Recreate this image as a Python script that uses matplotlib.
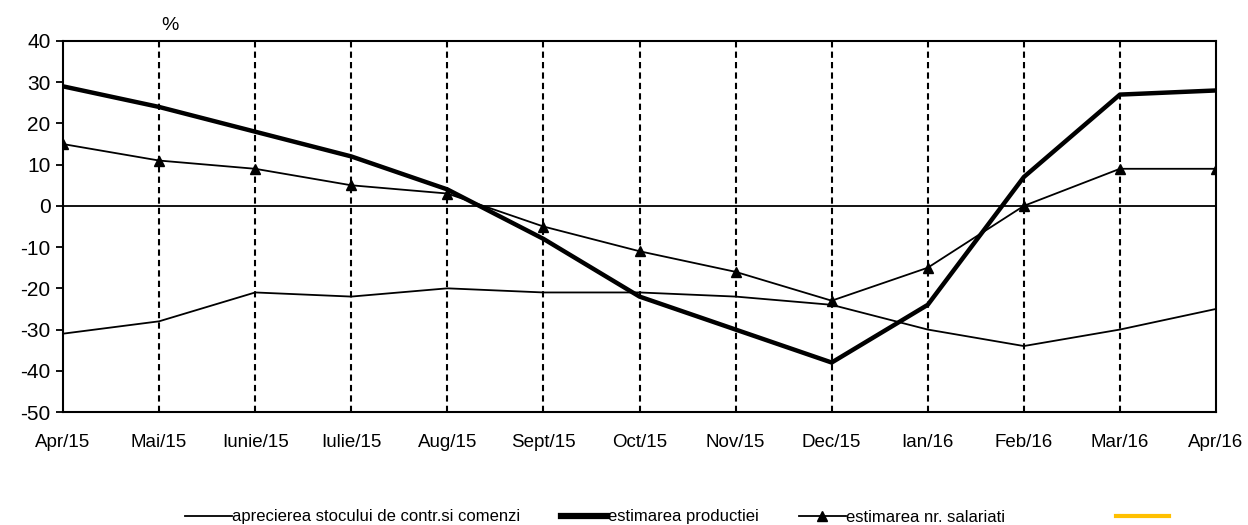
import matplotlib.pyplot as plt
from matplotlib.lines import Line2D

plt.rcParams['font.family'] = ['Liberation Sans', 'DejaVu Sans']
plt.rcParams['axes.unicode_minus'] = False

months = ["Apr/15", "Mai/15", "Iunie/15", "Iulie/15", "Aug/15", "Sept/15", "Oct/15",
          "Nov/15", "Dec/15", "Ian/16", "Feb/16", "Mar/16", "Apr/16"]
stoc_comenzi = [-31, -28, -21, -22, -20, -21, -21, -22, -24, -30, -34, -30, -25]
productie = [29, 24, 18, 12, 4, -8, -22, -30, -38, -24, 7, 27, 28]
salariati = [15, 11, 9, 5, 3, -5, -11, -16, -23, -15, 0, 9, 9]
yticks = [40, 30, 20, 10, 0, -10, -20, -30, -40, -50]

fig = plt.figure(figsize=(12.48, 5.25), dpi=100)
ax = fig.add_axes([63 / 1248, 1 - 412 / 525, (1216 - 63) / 1248, (412 - 41) / 525])

x = list(range(len(months)))

for xi in x[1:-1]:
    ax.axvline(xi, color='black', linestyle=(0, (3, 2)), linewidth=1.5, zorder=1)
ax.axhline(0, color='black', linewidth=1.3, zorder=1)

ax.plot(x, stoc_comenzi, color='black', linewidth=1.3, zorder=3)
ax.plot(x, productie, color='black', linewidth=3.2, zorder=3)
ax.plot(x, salariati, color='black', linewidth=1.3, marker='^', markersize=7, zorder=3)

ax.set_xlim(0, len(months) - 1)
ax.set_ylim(-50, 40)
ax.set_yticks(yticks)
ax.set_xticks(x)
ax.set_xticklabels(months, fontsize=13.5)
ax.tick_params(axis='x', length=0, pad=16)
ax.tick_params(axis='y', labelsize=15, length=5, width=1.3, direction='out', pad=4)
for spine in ax.spines.values():
    spine.set_linewidth(1.5)

fig.text(170 / 1248, 1 - 25 / 525, "%", fontsize=14, ha='center', va='center')

handles = [
    Line2D([], [], color='black', linewidth=1.3),
    Line2D([], [], color='black', linewidth=4.5),
    Line2D([], [], color='black', linewidth=1.3, marker='^', markersize=7),
]
labels = ["aprecierea stocului de contr.si comenzi", "estimarea productiei",
          "estimarea nr. salariati"]
fig.legend(handles, labels, loc='center left', bbox_to_anchor=(185 / 1248, 1 - 517 / 525),
           ncol=3, frameon=False, fontsize=12, handlelength=2.8, handletextpad=0.05,
           columnspacing=2.4, borderpad=0, borderaxespad=0)
fig.legend([Line2D([], [], color='#FFC000', linewidth=3)], [""], loc='center left',
           bbox_to_anchor=(1116 / 1248, 1 - 517 / 525), frameon=False, fontsize=12,
           handlelength=3.2, handletextpad=0, borderpad=0, borderaxespad=0)

plt.savefig("out.png", dpi=100)
